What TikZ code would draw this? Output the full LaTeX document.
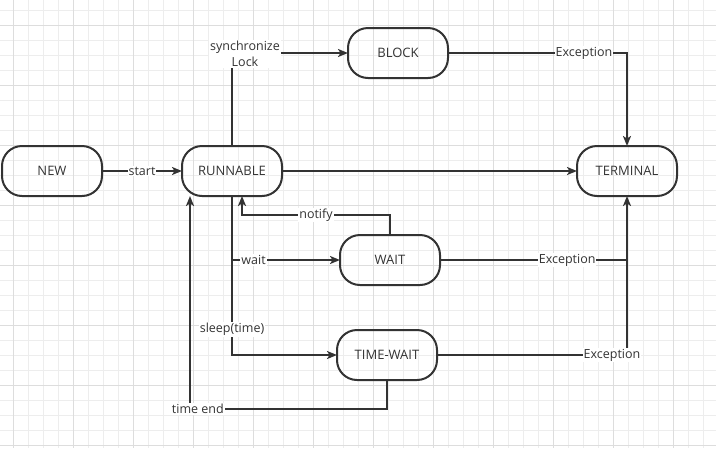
\documentclass[tikz,border=0pt]{standalone}
\usepackage{fontspec}
\setmainfont{Open Sans}
\usepackage{tikz}
\usetikzlibrary{arrows.meta,positioning}
\usetikzlibrary{calc}
\definecolor{ink}{HTML}{333333}
\definecolor{gridminor}{HTML}{EDEDED}
\definecolor{gridmajor}{HTML}{DDDDDD}
\tikzset{
	%Define standard arrow tip
	>={Stealth[length=10pt,width=8pt,inset=2.5pt]},
	%Define style for states
	state/.style={
		rectangle,
		rounded corners=20pt,
		draw=ink, line width=2pt,
		outer sep=0pt,
		text=ink,
		minimum width=100pt,
		minimum height=50pt,
		font=\fontsize{13}{15}\selectfont,
		text centered},
	%Define style for edge labels
	edgelabel/.style={fill=white, text=ink, inner sep=1pt,
		font=\fontsize{12.5}{15.5}\selectfont, align=center},
	% Define transition styles
	trans/.style={->, draw=ink, line width=2pt},
	link/.style={draw=ink, line width=2pt},
	% grid
	minorgrid/.style={draw=gridminor, line width=0.8pt},
	majorgrid/.style={draw=gridmajor, line width=0.8pt}
}
\begin{document}
\begin{tikzpicture}
		\useasboundingbox (0,0) rectangle (716pt,-448pt);
		% background grid
		\foreach \x in {13,28,...,713} \draw[minorgrid] (\x pt,0pt) -- (\x pt,-448pt);
		\foreach \y in {10,25,...,445} \draw[minorgrid] (0pt,-\y pt) -- (716pt,-\y pt);
		\foreach \x in {13,73,...,713} \draw[majorgrid] (\x pt,0pt) -- (\x pt,-448pt);
		\foreach \y in {25,85,...,445} \draw[majorgrid] (0pt,-\y pt) -- (716pt,-\y pt);
		% node NEW
		\node[state] (new) at (52pt,-171pt) {NEW};
		% node RUNNABLE
		\node[state, right=80pt of new] (runnable) {RUNNABLE};
		% node TERMINAL
		\node[state, right=295pt of runnable] (terminal) {TERMINAL};
		% node BLOCK
		\node[state, above right=68pt and 66pt of runnable] (block) {BLOCK};
		% node WAIT
		\node[state, below right=39pt and 58pt of runnable] (wait) {WAIT};
		% node TIME-WAIT
		\node[state, below=45pt of wait, xshift=-3pt] (timewait) {TIME-WAIT};
		% junction on the runnable line
		\coordinate (split) at (runnable.south |- wait.west);
		\draw[trans] (new) -- node[edgelabel] {start} (runnable);
		\draw[trans] (runnable) -- (terminal);
		\draw[trans] (runnable.north) |- node[edgelabel, pos=0.5, xshift=13pt, yshift=-1pt] {synchronize\\Lock} (block.west);
		\draw[trans] (block.east) -| node[edgelabel, pos=0.38] {Exception} (terminal.north);
		\draw[trans] (wait.north) -- ++(0,20pt) -| node[edgelabel, pos=0.25] {notify} ([xshift=10pt]runnable.south);
		\draw[trans] (runnable.south) |- node[edgelabel, pos=0.42] {sleep(time)} (timewait.west);
		\draw[trans] (split) -- node[edgelabel, pos=0.2] {wait} (wait.west);
		\draw[link] (wait.east) -- node[edgelabel, pos=0.68] {Exception} (wait.east -| terminal.south);
		\draw[trans] (timewait.east) -| node[edgelabel, pos=0.5, xshift=-15pt] {Exception} (terminal.south);
		\draw[trans] (timewait.south) -- ++(0,-29pt) -| node[edgelabel, pos=0.48] {time end} ([xshift=-42pt]runnable.south);
	\end{tikzpicture}
\end{document}
